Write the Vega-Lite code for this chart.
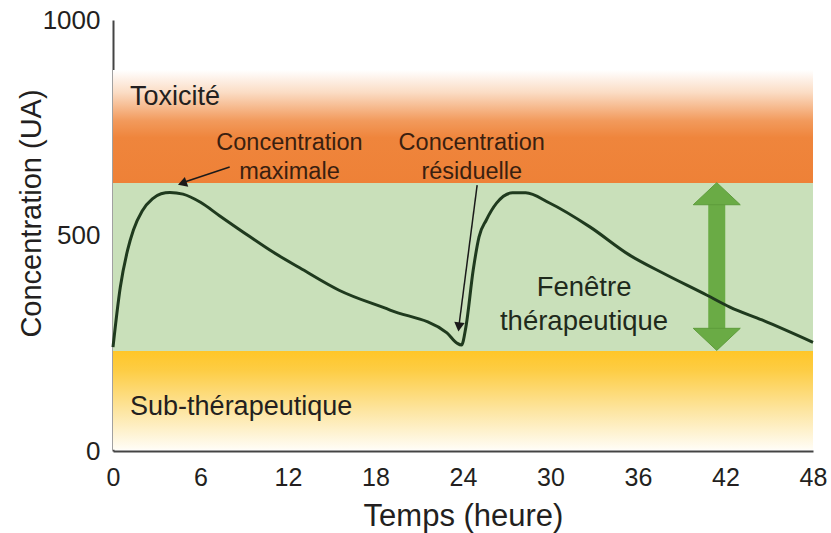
{
  "$schema": "https://vega.github.io/schema/vega-lite/v6.json",
  "autosize": "none",
  "width": 700,
  "height": 431,
  "padding": {"left": 113, "top": 20, "right": 18, "bottom": 82},
  "background": "white",
  "config": {"view": {"stroke": null}, "font": "Liberation Sans"},
  "datasets": {
    "curve": [
      {"t": 0, "c": 241}, {"t": 0.5, "c": 380}, {"t": 1.0, "c": 466}, {"t": 1.4, "c": 513},
      {"t": 2.0, "c": 557}, {"t": 2.7, "c": 585}, {"t": 3.3, "c": 597}, {"t": 3.9, "c": 600},
      {"t": 4.8, "c": 596}, {"t": 6.0, "c": 577}, {"t": 7.3, "c": 546}, {"t": 9.4, "c": 497},
      {"t": 11.0, "c": 461}, {"t": 12.8, "c": 425}, {"t": 15.5, "c": 373}, {"t": 19.0, "c": 327},
      {"t": 22.9, "c": 274}, {"t": 23.6, "c": 250}, {"t": 23.9, "c": 246}, {"t": 24.2, "c": 288},
      {"t": 24.7, "c": 420}, {"t": 25.1, "c": 497}, {"t": 25.6, "c": 536}, {"t": 26.3, "c": 575},
      {"t": 27.4, "c": 599}, {"t": 28.3, "c": 599}, {"t": 29.9, "c": 576}, {"t": 32.7, "c": 520},
      {"t": 35.4, "c": 455}, {"t": 37.7, "c": 413}, {"t": 40.7, "c": 362}, {"t": 42.3, "c": 334},
      {"t": 44.5, "c": 304}, {"t": 48, "c": 252}
    ]
  },
  "layer": [
    {
      "data": {"values": [{"x0": 0, "x1": 48, "y0": 622, "y1": 884}]},
      "mark": {"type": "rect", "fill": {"gradient": "linear", "x1": 0, "y1": 0, "x2": 0, "y2": 1,
        "stops": [{"offset": 0, "color": "#ffffff"}, {"offset": 0.2, "color": "#fbdcc4"}, {"offset": 0.45, "color": "#f29a5c"}, {"offset": 0.6, "color": "#ef853c"}, {"offset": 1, "color": "#ee8137"}]}},
      "encoding": {
        "x": {"field": "x0", "type": "quantitative", "scale": {"domain": [0, 48], "nice": false}, "axis": {"values": [0, 6, 12, 18, 24, 30, 36, 42, 48], "title": "Temps (heure)", "grid": false, "ticks": false, "labelFlush": false, "domainColor": "#444444", "domainWidth": 2, "labelFontSize": 25, "labelColor": "#231f20", "labelPadding": 14, "titleFontSize": 31, "titleFontWeight": "normal", "titleColor": "#231f20", "titleY": 65, "titleBaseline": "middle"}},
        "x2": {"field": "x1"},
        "y": {"field": "y0", "type": "quantitative", "scale": {"domain": [0, 1000], "nice": false}, "axis": {"values": [0, 500, 1000], "format": "d", "title": "Concentration (UA)", "grid": false, "ticks": false, "labelFlush": false, "domainColor": "#444444", "domainWidth": 2, "labelFontSize": 26, "labelColor": "#231f20", "labelPadding": 13, "titleFontSize": 29, "titleFontWeight": "normal", "titleColor": "#231f20", "titleX": -82, "titleY": 193, "titleAngle": -90, "titleAlign": "center", "titleBaseline": "middle"}},
        "y2": {"field": "y1"}
      }
    },
    {
      "data": {"values": [{"x0": 0, "x1": 48, "y0": 232, "y1": 622}]},
      "mark": {"type": "rect", "fill": "#c9e0ba"},
      "encoding": {
        "x": {"field": "x0", "type": "quantitative"}, "x2": {"field": "x1"},
        "y": {"field": "y0", "type": "quantitative"}, "y2": {"field": "y1"}
      }
    },
    {
      "data": {"values": [{"x0": 0, "x1": 48, "y0": 3, "y1": 232}]},
      "mark": {"type": "rect", "fill": {"gradient": "linear", "x1": 0, "y1": 0, "x2": 0, "y2": 1,
        "stops": [{"offset": 0, "color": "#ffc628"}, {"offset": 0.2, "color": "#fdcd45"}, {"offset": 0.6, "color": "#fde5a0"}, {"offset": 1, "color": "#fffdf6"}]}},
      "encoding": {
        "x": {"field": "x0", "type": "quantitative"}, "x2": {"field": "x1"},
        "y": {"field": "y0", "type": "quantitative"}, "y2": {"field": "y1"}
      }
    },
    {
      "data": {"values": [{"t": 41.4, "a": 575, "b": 258}]},
      "mark": {"type": "rule", "stroke": "#6aab45", "strokeWidth": 17},
      "encoding": {
        "x": {"field": "t", "type": "quantitative"},
        "y": {"field": "a", "type": "quantitative"}, "y2": {"field": "b"}
      }
    },
    {
      "data": {"values": [{"t": 41.4, "c": 597}]},
      "mark": {"type": "point", "filled": true, "shape": "M-1,0.47L0,-0.47L1,0.47Z", "size": 2209, "fill": "#6aab45", "opacity": 1, "stroke": "#5e9c3c", "strokeWidth": 1},
      "encoding": {"x": {"field": "t", "type": "quantitative"}, "y": {"field": "c", "type": "quantitative"}}
    },
    {
      "data": {"values": [{"t": 41.4, "c": 259}]},
      "mark": {"type": "point", "filled": true, "shape": "M-1,-0.47L0,0.47L1,-0.47Z", "size": 2209, "fill": "#6aab45", "opacity": 1, "stroke": "#5e9c3c", "strokeWidth": 1},
      "encoding": {"x": {"field": "t", "type": "quantitative"}, "y": {"field": "c", "type": "quantitative"}}
    },
    {
      "data": {"name": "curve"},
      "mark": {"type": "line", "interpolate": "monotone", "stroke": "#1f3a1e", "strokeWidth": 3},
      "encoding": {"x": {"field": "t", "type": "quantitative"}, "y": {"field": "c", "type": "quantitative"}}
    },
    {
      "data": {"values": [{"t": 8.0, "c": 659, "t2": 4.7, "c2": 622}, {"t": 24.97, "c": 617, "t2": 23.72, "c2": 290}]},
      "mark": {"type": "rule", "stroke": "#1a1a1a", "strokeWidth": 1.5},
      "encoding": {
        "x": {"field": "t", "type": "quantitative"}, "y": {"field": "c", "type": "quantitative"},
        "x2": {"field": "t2"}, "y2": {"field": "c2"}
      }
    },
    {
      "data": {"values": [{"t": 4.75, "c": 621}]},
      "mark": {"type": "point", "filled": true, "shape": "triangle-right", "size": 110, "angle": 161, "fill": "#1a1a1a", "opacity": 1},
      "encoding": {"x": {"field": "t", "type": "quantitative"}, "y": {"field": "c", "type": "quantitative"}}
    },
    {
      "data": {"values": [{"t": 23.72, "c": 288}]},
      "mark": {"type": "point", "filled": true, "shape": "triangle-right", "size": 110, "angle": 97, "fill": "#1a1a1a", "opacity": 1},
      "encoding": {"x": {"field": "t", "type": "quantitative"}, "y": {"field": "c", "type": "quantitative"}}
    },
    {
      "data": {"values": [
        {"t": 1.17, "c": 821, "label": "Toxicité"},
        {"t": 1.17, "c": 102, "label": "Sub-thérapeutique"}
      ]},
      "mark": {"type": "text", "align": "left", "baseline": "middle", "fontSize": 27, "color": "#231f20"},
      "encoding": {"x": {"field": "t", "type": "quantitative"}, "y": {"field": "c", "type": "quantitative"}, "text": {"field": "label"}}
    },
    {
      "data": {"values": [
        {"t": 12.1, "c": 715, "label": "Concentration"},
        {"t": 12.1, "c": 648, "label": "maximale"},
        {"t": 24.6, "c": 715, "label": "Concentration"},
        {"t": 24.6, "c": 648, "label": "résiduelle"}
      ]},
      "mark": {"type": "text", "align": "center", "baseline": "middle", "fontSize": 23.5, "color": "#3a1f10"},
      "encoding": {"x": {"field": "t", "type": "quantitative"}, "y": {"field": "c", "type": "quantitative"}, "text": {"field": "label"}}
    },
    {
      "data": {"values": [
        {"t": 32.3, "c": 378, "label": "Fenêtre"},
        {"t": 32.3, "c": 299, "label": "thérapeutique"}
      ]},
      "mark": {"type": "text", "align": "center", "baseline": "middle", "fontSize": 27.5, "color": "#1f2a1c"},
      "encoding": {"x": {"field": "t", "type": "quantitative"}, "y": {"field": "c", "type": "quantitative"}, "text": {"field": "label"}}
    }
  ]
}
